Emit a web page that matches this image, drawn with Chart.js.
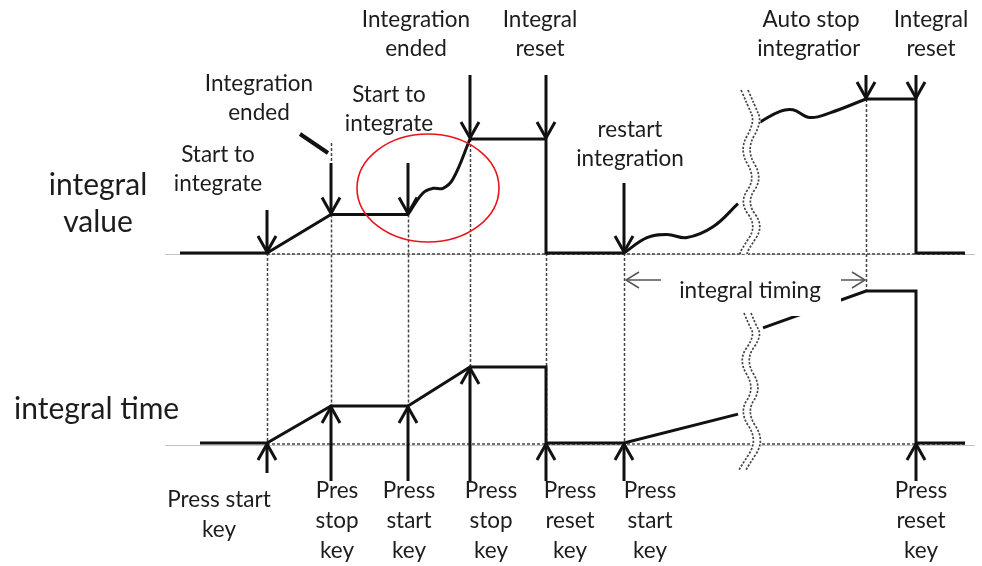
<!DOCTYPE html>
<html>
<head>
<meta charset="utf-8">
<script src="https://cdn.jsdelivr.net/npm/chart.js@4.4.0/dist/chart.umd.min.js"></script>
<style>
html,body{margin:0;padding:0;background:#fff;}
#wrap{width:982px;height:566px;}
</style>
</head>
<body>
<div id="wrap"><canvas id="c" width="982" height="566"></canvas></div>
<script>
// ---------- DATA (arbitrary schematic units) ----------
// event times on the time axis
const eventTimes   = [8.7, 15.1, 22.8, 29.0, 36.6, 44.4, 68.6, 73.6];
// trace levels at each event (integral value / integral time)
const valueAtEvent = [0, 2.5, 2.5, 7.4, 7.4, 0, 10, 10];
const timeAtEvent  = [0, 2.43, 2.43, 5, 0, 0, 10, 0];

// integral value trace: straight parts (y:null = gap)
const valueStraight = [
  {x:0,y:0},{x:8.7,y:0},{x:15.1,y:2.5},{x:22.8,y:2.5},{x:26,y:null},
  {x:29.0,y:7.4},{x:36.6,y:7.4},{x:36.6,y:0},{x:44.4,y:0},{x:56,y:null},
  {x:68.6,y:10},{x:73.6,y:10},{x:73.6,y:0},{x:78.5,y:0}
];
// integral value trace: wavy parts
const valueWavy1 = [{x:22.8,y:2.5},{x:24.3,y:3.9},{x:25.3,y:4.2},{x:26.3,y:4.2},{x:27.3,y:4.8},{x:29.0,y:7.4}];
const valueWavy2 = [{x:44.4,y:0},{x:46.7,y:1.0},{x:48.7,y:1.2},{x:50.7,y:1.0},{x:53.3,y:1.7},{x:55.8,y:3.2}];
const valueWavy3 = [{x:58.0,y:8.5},{x:60.0,y:9.2},{x:61.3,y:9.3},{x:63.0,y:8.8},{x:65.0,y:9.1},{x:68.6,y:10}];

// integral time trace
const timeTrace = [
  {x:2,y:0},{x:8.7,y:0},{x:15.1,y:2.43},{x:22.8,y:2.43},{x:29.0,y:5},{x:36.6,y:5},
  {x:36.6,y:0},{x:44.4,y:0},{x:55.8,y:1.9},{x:57,y:null},
  {x:58.3,y:7.57},{x:68.6,y:10},{x:73.6,y:10},{x:73.6,y:0},{x:78.5,y:0}
];

// texts
const axisLabels   = [["integral","value"],["integral time"]];
const topLabels    = [["Start to","integrate"],["Integration","ended"],["Start to","integrate"],["Integration","ended"],["Integral","reset"],["restart","integration"],["Auto stop","integration"],["Integral","reset"]];
const bottomLabels = [["Press start","key"],["Pres","stop","key"],["Press","start","key"],["Press","stop","key"],["Press","reset","key"],["Press","start","key"],null,["Press","reset","key"]];
const timingLabel  = "integral timing";

// ---------- LAYOUT ----------
const FONT = "Lato, 'Open Sans', sans-serif";
const TEXT_COLOR = "#1c1c1c";
const topLabelPos = [ // center x, first line y, clip right edge
  {cx:218,y:155},{cx:259,y:84},{cx:389,y:95},{cx:416,y:20,clip:469},{cx:540,y:20},{cx:630,y:130},{cx:811,y:20,clip:860},{cx:931,y:20}
];
const bottomLabelPos = [{cx:219,y:500},{cx:337,y:491},{cx:409,y:491},{cx:491,y:491},{cx:570,y:491},{cx:650,y:491},null,{cx:921,y:491}];
const topArrowStart = [210,163,163,75,75,183,75,75];
const bottomArrowStart = [473,481,481,481,481,481,null,481];

function ds(data, axis, tension){
  return {data, yAxisID:axis, borderColor:'#111', borderWidth:3, pointRadius:0,
          tension:tension, fill:false, spanGaps:false, borderCapStyle:'butt', borderJoinStyle:'miter'};
}

const deco = {
  id:'deco',
  beforeDatasetsDraw(chart){
    const ctx = chart.ctx, sx = chart.scales.x, sv = chart.scales.yv, st = chart.scales.yt;
    const X = t=>sx.getPixelForValue(t), YV=v=>sv.getPixelForValue(v), YT=v=>st.getPixelForValue(v);
    ctx.save();
    // thin gray base lines
    ctx.strokeStyle = '#c4c4c4'; ctx.lineWidth = 1;
    ctx.beginPath(); ctx.moveTo(165, YV(0)+1.5); ctx.lineTo(975, YV(0)+1.5); ctx.stroke();
    ctx.beginPath(); ctx.moveTo(165, YT(0)+2.5); ctx.lineTo(975, YT(0)+2.5); ctx.stroke();
    // dashed base lines
    ctx.strokeStyle = '#444'; ctx.lineWidth = 1.5; ctx.setLineDash([3,2]);
    ctx.beginPath(); ctx.moveTo(X(eventTimes[0]), YV(0)+1); ctx.lineTo(965, YV(0)+1); ctx.stroke();
    ctx.beginPath(); ctx.moveTo(X(eventTimes[0]), YT(0)+1); ctx.lineTo(965, YT(0)+1); ctx.stroke();
    // dashed verticals
    for(let i=0;i<eventTimes.length-1;i++){
      const x = Math.round(X(eventTimes[i]))+0.5;
      let y1 = YV(valueAtEvent[i]);
      if(i===4) y1 = YV(0);
      ctx.beginPath(); ctx.moveTo(x, y1); ctx.lineTo(x, YT(timeAtEvent[i])); ctx.stroke();
    }
    // short dashed above 2nd event
    ctx.beginPath(); ctx.moveTo(Math.round(X(eventTimes[1]))+0.5, 143); ctx.lineTo(Math.round(X(eventTimes[1]))+0.5, 162); ctx.stroke();
    ctx.setLineDash([]);
    ctx.restore();
  },
  afterDatasetsDraw(chart){
    const ctx = chart.ctx, sx = chart.scales.x, sv = chart.scales.yv, st = chart.scales.yt;
    const X = t=>sx.getPixelForValue(t), YV=v=>sv.getPixelForValue(v), YT=v=>st.getPixelForValue(v);
    ctx.save();
    // arrows
    function arrow(x, y0, y1, lw, hl, hw){
      ctx.strokeStyle = '#111'; ctx.lineWidth = lw; ctx.lineCap='butt'; ctx.lineJoin='miter';
      ctx.beginPath(); ctx.moveTo(x,y0); ctx.lineTo(x,y1); ctx.stroke();
      const d = Math.sign(y1-y0);
      ctx.beginPath(); ctx.moveTo(x-hw, y1-d*hl); ctx.lineTo(x, y1); ctx.lineTo(x+hw, y1-d*hl); ctx.stroke();
    }
    for(let i=0;i<eventTimes.length;i++){
      const x = X(eventTimes[i]);
      arrow(x, topArrowStart[i], YV(valueAtEvent[i])-1, 3, 16, 9);
      if(bottomArrowStart[i]!=null) arrow(x, bottomArrowStart[i], YT(timeAtEvent[i])+1, 3, 16, 9);
    }
    // pointer for "Integration ended"
    ctx.strokeStyle='#111'; ctx.lineWidth=4;
    ctx.beginPath(); ctx.moveTo(300,134); ctx.lineTo(328,153); ctx.stroke();

    // red ellipse
    ctx.strokeStyle='#e8141a'; ctx.lineWidth=1.6;
    ctx.beginPath(); ctx.ellipse(X(24.8), YV(4.22), 71, 54, 0, 0, Math.PI*2); ctx.stroke();

    // white box behind timing label
    ctx.fillStyle='#fff'; ctx.fillRect(668, 283, 173, 33);

    // timing arrows
    ctx.strokeStyle='#555'; ctx.lineWidth=1.5;
    const ly = 280, xa = X(eventTimes[5])+2, xb = X(eventTimes[6])-1;
    ctx.beginPath(); ctx.moveTo(xa+35, ly); ctx.lineTo(xa, ly); ctx.stroke();
    ctx.beginPath(); ctx.moveTo(xa+13, ly-8); ctx.lineTo(xa, ly); ctx.lineTo(xa+13, ly+8); ctx.stroke();
    ctx.beginPath(); ctx.moveTo(xb-24, ly); ctx.lineTo(xb, ly); ctx.stroke();
    ctx.beginPath(); ctx.moveTo(xb-13, ly-8); ctx.lineTo(xb, ly); ctx.lineTo(xb-13, ly+8); ctx.stroke();

    // break marks (double wavy dashed)
    function wave(pts, off){
      ctx.beginPath();
      ctx.moveTo(pts[0][0]+off, pts[0][1]);
      for(let i=1;i<pts.length-1;i++){
        const mx=(pts[i][0]+pts[i+1][0])/2+off, my=(pts[i][1]+pts[i+1][1])/2;
        ctx.quadraticCurveTo(pts[i][0]+off, pts[i][1], mx, my);
      }
      const L=pts[pts.length-1]; ctx.lineTo(L[0]+off, L[1]);
      ctx.stroke();
    }
    const w1 = [[741,90],[748,106],[755,122],[739,150],[756,178],[739,202],[757,226],[741,250],[740,254]];
    const w2 = [[744,313],[748,323],[755,336],[738,360],[755,388],[739,412],[758,440],[740,468],[739,470]];
    ctx.strokeStyle='#fff'; ctx.lineWidth=9; ctx.setLineDash([]);
    wave(w1,3.5); wave(w2,3.5);
    ctx.strokeStyle='#444'; ctx.lineWidth=1.7; ctx.setLineDash([2.2,1.6]);
    wave(w1,0); wave(w1,7); wave(w2,0); wave(w2,7);
    ctx.setLineDash([]);

    // texts
    ctx.fillStyle = TEXT_COLOR; ctx.textAlign='center'; ctx.textBaseline='middle';
    ctx.font = "30px " + FONT;
    ctx.fillText(axisLabels[0][0], 98, 185);
    ctx.fillText(axisLabels[0][1], 98, 222);
    ctx.textAlign='left';
    ctx.fillText(axisLabels[1][0], 14, 409);
    ctx.textAlign='center';
    ctx.font = "22.5px " + FONT;
    topLabels.forEach((lines,i)=>{
      const p = topLabelPos[i];
      ctx.save();
      if(p.clip){ ctx.beginPath(); ctx.rect(0,0,p.clip,566); ctx.clip(); }
      lines.forEach((s,j)=>ctx.fillText(s, p.cx, p.y + j*29));
      ctx.restore();
    });
    bottomLabels.forEach((lines,i)=>{
      if(!lines) return;
      const p = bottomLabelPos[i];
      lines.forEach((s,j)=>ctx.fillText(s, p.cx, p.y + j*30));
    });
    ctx.fillText(timingLabel, 750, 291);
    ctx.restore();
  }
};

new Chart(document.getElementById('c'), {
  type:'line',
  data:{ datasets:[
    ds(valueStraight,'yv',0),
    ds(valueWavy1,'yv',0.4),
    ds(valueWavy2,'yv',0.4),
    ds(valueWavy3,'yv',0.4),
    ds(timeTrace,'yt',0)
  ]},
  options:{
    responsive:false, animation:false, devicePixelRatio:1,
    layout:{padding:0},
    plugins:{legend:{display:false}, tooltip:{enabled:false}},
    scales:{
      x:{type:'linear', min:-18, max:80.2, display:false},
      yv:{type:'linear', min:-20.325, max:16.428, display:false},
      yt:{type:'linear', min:-8.092, max:29.145, display:false}
    }
  },
  plugins:[deco]
});
</script>
</body>
</html>
